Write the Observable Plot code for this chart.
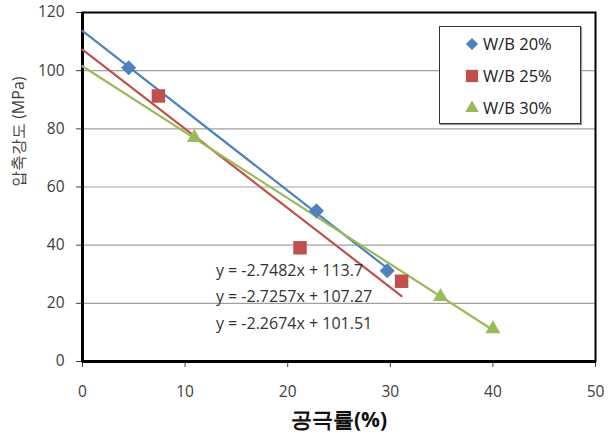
<!DOCTYPE html>
<html>
<head>
<meta charset="utf-8">
<script src="https://cdn.jsdelivr.net/npm/d3@7"></script>
<script src="https://cdn.jsdelivr.net/npm/@observablehq/plot@0.6"></script>
<style>
  html, body { margin: 0; padding: 0; background: #fff; }
  #wrap { position: relative; width: 616px; height: 435px; font-family: "Open Sans", sans-serif; }
  #legend { position: absolute; left: 439px; top: 26px; width: 142px; height: 98px; border: 1px solid #333;
    box-shadow: 1px 1px 1px #999; background: #fff; box-sizing: border-box; }
  .item { position: absolute; left: 24px; display: flex; align-items: center; font-size: 16.5px; color: #222; line-height: 20px; }
  .item svg { margin-right: 3px; }
</style>
</head>
<body>
<div id="wrap"></div>
<script>
const seriesNames = ["W/B 20%", "W/B 25%", "W/B 30%"];
const colors = ["#4F81BD", "#C0504D", "#9BBB59"];
const symbols = ["diamond2", "square", "triangle2"];
const porosity20 = [4.5, 22.8, 29.7];
const strength20 = [101, 51.8, 31.2];
const porosity25 = [7.4, 21.2, 31.1];
const strength25 = [91.3, 39.1, 27.6];
const porosity30 = [10.9, 34.9, 40.0];
const strength30 = [77.0, 22.3, 11.2];
const slopes = [-2.7482, -2.7257, -2.2674];
const intercepts = [113.7, 107.27, 101.51];
const eqLabels = ["y = -2.7482x + 113.7", "y = -2.7257x + 107.27", "y = -2.2674x + 101.51"];
const xTicks = [0, 10, 20, 30, 40, 50];
const yTicks = [0, 20, 40, 60, 80, 100, 120];

const xs = [porosity20, porosity25, porosity30];
const ys = [strength20, strength25, strength30];
const seriesPoints = xs.map((arr, s) => arr.map((x, i) => ({series: seriesNames[s], x, y: ys[s][i]})));
const lines = [];
seriesNames.forEach((name, s) => {
  const xmax = d3.max(xs[s]);
  [0, xmax].forEach(x => lines.push({series: name, x, y: intercepts[s] + slopes[s] * x}));
});
const markerR = [6.8, 7.6, 7.2];

const font = "Open Sans, sans-serif";
const chart = Plot.plot({
  width: 616, height: 435,
  marginLeft: 82, marginRight: 21, marginTop: 12, marginBottom: 74,
  style: {fontFamily: font, fontSize: "15.5px", color: "#404040", background: "#fff"},
  x: {domain: [0, 50], ticks: xTicks, tickSize: 6, tickPadding: 18, label: null},
  y: {domain: [0, 120], ticks: yTicks, tickSize: 6, tickPadding: 12, label: null},
  color: {domain: seriesNames, range: colors},
  marks: [
    Plot.gridY(yTicks.filter(t => t > 0 && t < 120), {stroke: "#a0a0a0", strokeOpacity: 1, strokeWidth: 1.2}),
    Plot.frame({stroke: "#000", strokeWidth: 2}),
    Plot.ruleX([0], {stroke: "#000", strokeWidth: 3}),
    Plot.ruleY([0], {stroke: "#000", strokeWidth: 3}),
    Plot.line(lines, {x: "x", y: "y", z: "series", stroke: "series", strokeWidth: 2.2}),
    ...seriesPoints.map((pts, s) => Plot.dot(pts, {x: "x", y: "y", fill: colors[s], symbol: symbols[s], r: markerR[s], stroke: null})),
    Plot.text(eqLabels, {x: 13, y: (d, i) => 31.3 - 9.1 * i, text: d => d, textAnchor: "start", fontSize: 16, fill: "#333"}),
    Plot.text(["압축강도 (MPa)"], {frameAnchor: "left", dx: -64, rotate: -90, fontSize: 16, fill: "#404040"}),
    Plot.text(["공극률(%)"], {frameAnchor: "bottom", lineAnchor: "middle", dy: 59, fontSize: 21, fontWeight: "bold", fill: "#111"})
  ]
});
const wrap = document.getElementById("wrap");
wrap.appendChild(chart);

const legend = document.createElement("div");
legend.id = "legend";
const symMap = {diamond2: d3.symbolDiamond2, square: d3.symbolSquare, triangle2: d3.symbolTriangle2};
const legendSizes = [95, 150, 130];
seriesNames.forEach((name, i) => {
  const it = document.createElement("div");
  it.className = "item";
  it.style.top = (7 + i * 32) + "px";
  const path = d3.symbol(symMap[symbols[i]], legendSizes[i])();
  it.innerHTML = `<svg width="16" height="20" viewBox="-8 -10 16 20"><path d="${path}" fill="${colors[i]}"/></svg><span>${name}</span>`;
  legend.appendChild(it);
});
wrap.appendChild(legend);
</script>
</body>
</html>
